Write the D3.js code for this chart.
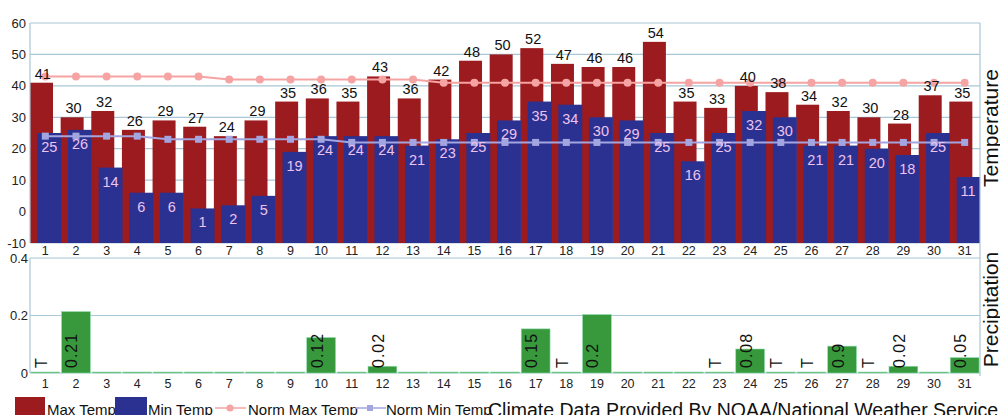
<!DOCTYPE html>
<html>
<head>
<meta charset="utf-8">
<script src="https://cdn.jsdelivr.net/npm/d3@7"></script>
<style>
  body { margin: 0; background: #fff; }
  svg { display: block; font-family: "Liberation Sans", Arial, sans-serif; }
</style>
</head>
<body>
<svg id="chart" width="1000" height="415"></svg>
<script>
// daily values
const days = d3.range(1, 32);
const maxTemp = [41, 30, 32, 26, 29, 27, 24, 29, 35, 36, 35, 43, 36, 42, 48, 50, 52, 47, 46, 46, 54, 35, 33, 40, 38, 34, 32, 30, 28, 37, 35];
const minTemp = [25, 26, 14, 6, 6, 1, 2, 5, 19, 24, 24, 24, 21, 23, 25, 29, 35, 34, 30, 29, 25, 16, 25, 32, 30, 21, 21, 20, 18, 25, 11];
const normMax = [43, 43, 43, 43, 43, 43, 42, 42, 42, 42, 42, 42, 42, 41, 41, 41, 41, 41, 41, 41, 41, 41, 41, 41, 41, 41, 41, 41, 41, 41, 41];
const normMin = [24, 24, 24, 24, 23, 23, 23, 23, 23, 23, 22, 22, 22, 22, 22, 22, 22, 22, 22, 22, 22, 22, 22, 22, 22, 22, 22, 22, 22, 22, 22];
const precip = [0, 0.21, 0, 0, 0, 0, 0, 0, 0, 0.12, 0, 0.02, 0, 0, 0, 0, 0.15, 0, 0.2, 0, 0, 0, 0, 0.08, 0, 0, 0.09, 0, 0.02, 0, 0.05];
const precipLabels = ["T", "0.21", "", "", "", "", "", "", "", "0.12", "", "0.02", "", "", "", "", "0.15", "T", "0.2", "", "", "", "T", "0.08", "T", "T", "0.9", "T", "0.02", "", "0.05"];
const tempTicks = [-10, 0, 10, 20, 30, 40, 50, 60];
const precipTicks = [0, 0.2, 0.4];

const colors = {
    max: "#9b1b1e",
    min: "#2b3191",
    normMax: "#f6a3a3",
    normMin: "#a3a5e0",
    precip: "#37993c",
    grid: "#a9c7d6",
    text: "#222"
};

const svg = d3.select("#chart");
const left = 30, right = 980;

/***
 * Scales
 */
const x = d3.scaleBand().domain(days).range([left, right]).padding(0);
const bw = x.bandwidth();
const yT = d3.scaleLinear().domain([-10, 60]).range([243, 23]);
const yP = d3.scaleLinear().domain([0, 0.4]).range([373, 258]);
const cx = d => x(d) + bw / 2;

/***
 * Temperature panel
 */
const temp = svg.append("g");
temp.append("clipPath").attr("id", "clipT")
    .append("rect").attr("x", left).attr("y", 0).attr("width", right - left).attr("height", 250);

temp.selectAll("line.grid")
    .data(tempTicks)
    .join("line")
    .attr("class", "grid")
    .attr("x1", left).attr("x2", right)
    .attr("y1", d => yT(d)).attr("y2", d => yT(d))
    .attr("stroke", colors.grid).attr("stroke-width", 1.2);

temp.selectAll("text.ytick")
    .data(tempTicks)
    .join("text")
    .attr("class", "ytick")
    .attr("x", 26).attr("y", d => yT(d) + 4.5)
    .attr("text-anchor", "end")
    .attr("font-size", 13)
    .attr("fill", colors.text)
    .text(d => d);

const bars = temp.append("g").attr("clip-path", "url(#clipT)");
bars.selectAll("rect.max")
    .data(days)
    .join("rect")
    .attr("class", "max")
    .attr("x", d => x(d))
    .attr("y", (d, i) => yT(maxTemp[i]))
    .attr("width", bw * 0.75)
    .attr("height", (d, i) => yT(-10) - yT(maxTemp[i]))
    .attr("fill", colors.max);

bars.selectAll("rect.min")
    .data(days)
    .join("rect")
    .attr("class", "min")
    .attr("x", d => x(d) + bw * 0.24)
    .attr("y", (d, i) => yT(minTemp[i]))
    .attr("width", bw * 0.78)
    .attr("height", (d, i) => yT(-10) - yT(minTemp[i]))
    .attr("fill", colors.min);

// normal lines
temp.append("path")
    .datum(days)
    .attr("d", d3.line().x(cx).y((d, i) => yT(normMax[i])))
    .attr("fill", "none").attr("stroke", colors.normMax).attr("stroke-width", 2);
temp.selectAll("circle.nmax")
    .data(days)
    .join("circle")
    .attr("class", "nmax")
    .attr("cx", cx).attr("cy", (d, i) => yT(normMax[i]))
    .attr("r", 4).attr("fill", colors.normMax);

temp.append("path")
    .datum(days)
    .attr("d", d3.line().x(cx).y((d, i) => yT(normMin[i])))
    .attr("fill", "none").attr("stroke", colors.normMin).attr("stroke-width", 2);
temp.selectAll("rect.nmin")
    .data(days)
    .join("rect")
    .attr("class", "nmin")
    .attr("x", d => cx(d) - 3.5).attr("y", (d, i) => yT(normMin[i]) - 3.5)
    .attr("width", 7).attr("height", 7).attr("fill", colors.normMin);

// value labels
temp.selectAll("text.maxlab")
    .data(days)
    .join("text")
    .attr("class", "maxlab")
    .attr("x", d => x(d) + bw * 0.42)
    .attr("y", (d, i) => yT(maxTemp[i]) - 4)
    .attr("text-anchor", "middle")
    .attr("font-size", 14.5)
    .attr("fill", "#111")
    .text((d, i) => maxTemp[i]);

temp.selectAll("text.minlab")
    .data(days)
    .join("text")
    .attr("class", "minlab")
    .attr("x", d => Math.min(x(d) + bw * 0.63, right - 12))
    .attr("y", (d, i) => yT(minTemp[i]) + 19)
    .attr("text-anchor", "middle")
    .attr("font-size", 14.5)
    .attr("fill", "#eec3ee")
    .text((d, i) => minTemp[i]);

temp.selectAll("text.xtick")
    .data(days)
    .join("text")
    .attr("class", "xtick")
    .attr("x", cx).attr("y", 255)
    .attr("text-anchor", "middle")
    .attr("font-size", 12.5)
    .attr("fill", colors.text)
    .text(d => d);

/***
 * Precipitation panel
 */
const prec = svg.append("g");
prec.selectAll("line.grid")
    .data(precipTicks)
    .join("line")
    .attr("class", "grid")
    .attr("x1", left).attr("x2", right)
    .attr("y1", d => yP(d)).attr("y2", d => yP(d))
    .attr("stroke", colors.grid).attr("stroke-width", 1.2);

prec.selectAll("text.ytick")
    .data(precipTicks)
    .join("text")
    .attr("class", "ytick")
    .attr("x", 28).attr("y", d => yP(d) + 4.5)
    .attr("text-anchor", "end")
    .attr("font-size", 13)
    .attr("fill", colors.text)
    .text(d => d);

prec.selectAll("rect.p")
    .data(days)
    .join("rect")
    .attr("class", "p")
    .attr("x", d => x(d) + bw * 0.03)
    .attr("y", (d, i) => yP(precip[i]) - 1)
    .attr("width", bw * 0.94)
    .attr("height", (d, i) => yP(0) - yP(precip[i]) + 1)
    .attr("fill", colors.precip)
    .attr("stroke", "#8fdcb0").attr("stroke-width", 0.6);

prec.selectAll("text.plab")
    .data(days)
    .join("text")
    .attr("class", "plab")
    .attr("transform", d => `translate(${cx(d) + 1.5},${yP(0) - 5}) rotate(-90)`)
    .attr("font-size", 16)
    .attr("letter-spacing", 1)
    .attr("fill", "#111")
    .text((d, i) => precipLabels[i]);

prec.selectAll("text.xtick")
    .data(days)
    .join("text")
    .attr("class", "xtick")
    .attr("x", cx).attr("y", 388)
    .attr("text-anchor", "middle")
    .attr("font-size", 12.5)
    .attr("fill", colors.text)
    .text(d => d);

// frames
svg.append("line").attr("x1", left).attr("x2", left).attr("y1", yT(60)).attr("y2", yT(-10))
    .attr("stroke", colors.grid).attr("stroke-width", 1.2);
svg.append("line").attr("x1", left).attr("x2", left).attr("y1", yP(0.4)).attr("y2", yP(0))
    .attr("stroke", colors.grid).attr("stroke-width", 1.2);
svg.append("line").attr("x1", right).attr("x2", right).attr("y1", yT(60)).attr("y2", yP(0) + 3)
    .attr("stroke", colors.grid).attr("stroke-width", 1.2);

// side titles
svg.append("text")
    .attr("transform", `translate(998,${(yT(60) + yT(-10)) / 2 - 5}) rotate(-90)`)
    .attr("text-anchor", "middle").attr("font-size", 21).attr("fill", "#111")
    .text("Temperature");
svg.append("text")
    .attr("transform", `translate(998,${(yP(0.4) + yP(0)) / 2 - 6}) rotate(-90)`)
    .attr("text-anchor", "middle").attr("font-size", 21).attr("fill", "#111")
    .text("Precipitation");

/***
 * Legend
 */
const leg = svg.append("g");
leg.append("rect").attr("x", 15).attr("y", 397).attr("width", 30).attr("height", 22).attr("fill", colors.max);
leg.append("text").attr("x", 47).attr("y", 415).attr("font-size", 15).attr("fill", "#111").text("Max Temp");
leg.append("rect").attr("x", 115).attr("y", 397).attr("width", 32).attr("height", 22).attr("fill", colors.min);
leg.append("text").attr("x", 148).attr("y", 415).attr("font-size", 15).attr("fill", "#111").text("Min Temp");
leg.append("line").attr("x1", 215).attr("x2", 246).attr("y1", 408).attr("y2", 408)
    .attr("stroke", colors.normMax).attr("stroke-width", 1.5);
leg.append("circle").attr("cx", 230).attr("cy", 408).attr("r", 3.5).attr("fill", colors.normMax);
leg.append("text").attr("x", 248).attr("y", 415).attr("font-size", 15).attr("fill", "#111").text("Norm Max Temp");
leg.append("line").attr("x1", 355).attr("x2", 386).attr("y1", 408).attr("y2", 408)
    .attr("stroke", colors.normMin).attr("stroke-width", 1.5);
leg.append("rect").attr("x", 367).attr("y", 405).attr("width", 6).attr("height", 6).attr("fill", colors.normMin);
leg.append("text").attr("x", 386).attr("y", 415).attr("font-size", 15).attr("fill", "#111").text("Norm Min Temp");
leg.append("text").attr("x", 488).attr("y", 417).attr("font-size", 19.5).attr("fill", "#111")
    .text("Climate Data Provided By NOAA/National Weather Service");
</script>
</body>
</html>
